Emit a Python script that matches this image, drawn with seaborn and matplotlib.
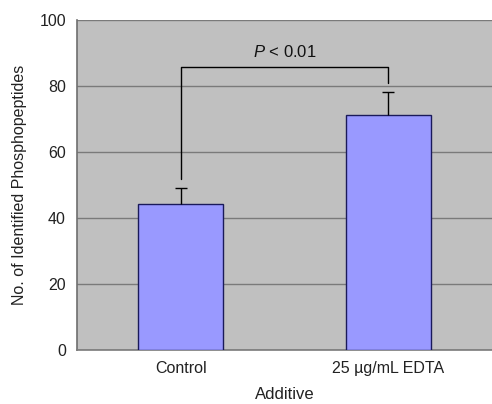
import matplotlib
matplotlib.use("Agg")
import matplotlib.pyplot as plt
import seaborn as sns
import numpy as np
import pandas as pd

# Data
categories = ["Control", "25 µg/mL EDTA"]
means = [44.3, 71.0]
errors = [4.6, 7.0]

# significance bracket (in data units)
bracket_y = 85.7
bracket_ends = [51.8, 80.8]
p_text = "$P$ < 0.01"

sns.set_style("white")
plt.rcParams["font.family"] = ["Liberation Sans", "DejaVu Sans"]
plt.rcParams["mathtext.fontset"] = "custom"
plt.rcParams["mathtext.it"] = "Liberation Sans:italic"
plt.rcParams["mathtext.rm"] = "Liberation Sans"

fig = plt.figure(figsize=(4.92, 4.04), dpi=100)
ax = fig.add_axes([0.1565, 0.1337, 0.8435, 0.818])
ax.set_facecolor("#C0C0C0")

df = pd.DataFrame({"Additive": categories, "Count": means})
sns.barplot(data=df, x="Additive", y="Count", color="#9999FF", saturation=1,
            edgecolor="#1A1A5A", linewidth=1.0, width=0.41, ax=ax, zorder=3)

# plus-only error bars, Excel style (hide the lower cap)
x = np.arange(len(categories))
eb = ax.errorbar(x, means, yerr=[np.zeros(len(errors)), errors], fmt="none",
                 ecolor="black", elinewidth=1.0, capsize=4, capthick=1.0, zorder=4)
eb[1][0].set_visible(False)

# significance bracket
ax.plot([x[0], x[0], x[1], x[1]],
        [bracket_ends[0], bracket_y, bracket_y, bracket_ends[1]],
        color="black", lw=1.0, zorder=4)
ax.text((x[0] + x[1]) / 2, bracket_y + 2.0, p_text, ha="center", va="bottom",
        fontsize=12, color="#111111")

ax.set_xlim(-0.5, 1.5)
ax.set_ylim(0, 100)
ax.set_yticks([0, 20, 40, 60, 80, 100])
ax.yaxis.grid(True, color="#7A7A7A", linewidth=1.0)
ax.set_axisbelow(True)

ax.set_xlabel("Additive", fontsize=12, color="#222222", labelpad=8)
ax.set_ylabel("No. of Identified Phosphopeptides", fontsize=11.5, color="#222222", labelpad=9)
ax.tick_params(axis="both", labelsize=11.5, labelcolor="#222222", length=0, pad=8)
ax.set_xticks([0.5], minor=True)
ax.tick_params(axis="x", which="minor", direction="in", length=3, color="#555555")

for side in ["top", "right"]:
    ax.spines[side].set_visible(False)
ax.spines["left"].set_color("#6E6E6E")
ax.spines["left"].set_linewidth(1.2)
ax.spines["bottom"].set_color("#7A7A7A")
ax.spines["bottom"].set_linewidth(1.2)

fig.savefig("out.png", dpi=100)
